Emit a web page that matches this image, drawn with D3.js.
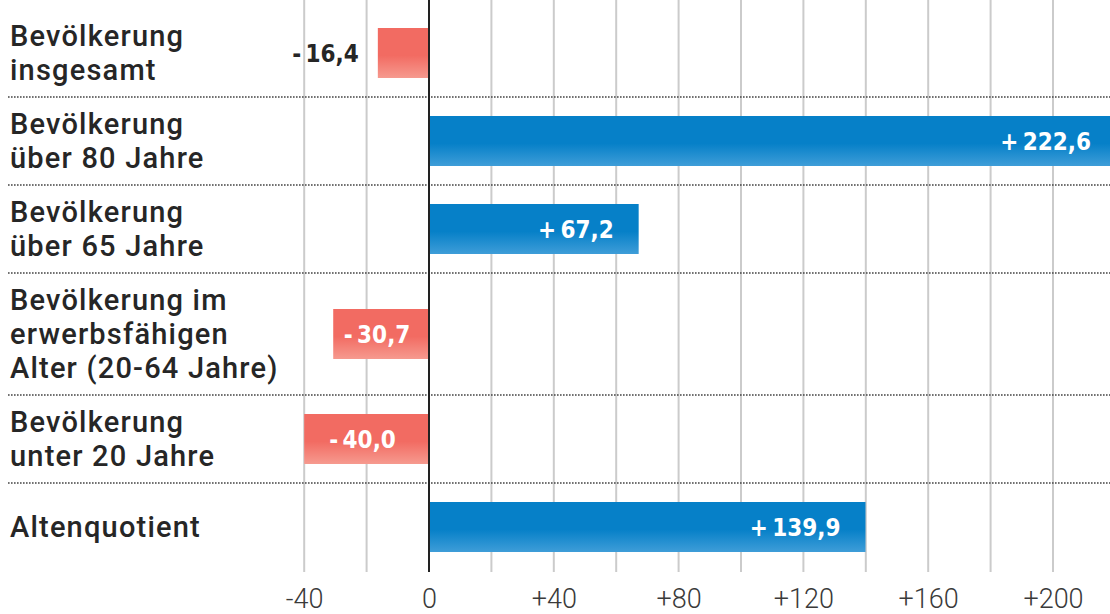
<!DOCTYPE html>
<html>
<head>
<meta charset="utf-8">
<script src="https://cdn.jsdelivr.net/npm/d3@7"></script>
<style>
  body { margin: 0; background: #fff; }
  svg { display: block; }
</style>
</head>
<body>
<div id="chart"></div>
<script>
// data
const categories = [
    "Bevölkerung\ninsgesamt",
    "Bevölkerung\nüber 80 Jahre",
    "Bevölkerung\nüber 65 Jahre",
    "Bevölkerung im\nerwerbsfähigen\nAlter (20-64 Jahre)",
    "Bevölkerung\nunter 20 Jahre",
    "Altenquotient"
];
const values = [-16.4, 222.6, 67.2, -30.7, -40.0, 139.9];
const tickValues = [-40, 0, 40, 80, 120, 160, 200];
const gridValues = [-40, -20, 0, 20, 40, 60, 80, 100, 120, 140, 160, 180, 200, 220];

let width = 1110,
    height = 614,
    lineHeight = 34,
    rowPad = 20,
    topY = 9,
    plotBottom = 572,
    barHeight = 50;

let svg = d3.select("#chart")
    .append("svg")
    .attr("width", width)
    .attr("height", height);

let defs = svg.append("defs");
function grad(id, c1, c2) {
    let g = defs.append("linearGradient").attr("id", id)
        .attr("x1", 0).attr("y1", 0).attr("x2", 0).attr("y2", 1);
    g.append("stop").attr("offset", "0%").attr("stop-color", c1);
    g.append("stop").attr("offset", "55%").attr("stop-color", c1);
    g.append("stop").attr("offset", "100%").attr("stop-color", c2);
}
grad("gBlue", "#0680c8", "#3e9dd8");
grad("gRed", "#f26b62", "#f69a8f");

let x = d3.scaleLinear()
    .domain([0, 200])
    .range([429, 1053]);

// rows have different heights depending on the number of text lines
let rows = categories.map(function (c, i) {
    let lines = c.split("\n");
    return {label: c, lines: lines, value: values[i], h: Math.max(2, lines.length) * lineHeight + rowPad};
});
let ends = d3.cumsum(rows, d => d.h);
rows.forEach(function (r, i) {
    r.y0 = topY + ends[i] - r.h;
    r.y1 = topY + ends[i];
    r.cy = (r.y0 + r.y1) / 2;
});
let yCenter = d3.scaleOrdinal()
    .domain(categories)
    .range(rows.map(r => r.cy));

// vertical grid
svg.append("g")
    .selectAll("line")
    .data(gridValues.filter(v => v !== 0))
    .enter()
    .append("line")
    .attr("x1", d => x(d)).attr("x2", d => x(d))
    .attr("y1", 0).attr("y2", plotBottom)
    .attr("stroke", "#cbcbcb")
    .attr("stroke-width", 2);

// dotted row separators
svg.append("g")
    .selectAll("line")
    .data(rows.slice(0, -1))
    .enter()
    .append("line")
    .attr("x1", 8).attr("x2", width)
    .attr("y1", d => d.y1).attr("y2", d => d.y1)
    .attr("stroke", "#444")
    .attr("stroke-width", 1.4)
    .attr("stroke-dasharray", "1.6,1.4");

// bars
svg.append("g")
    .selectAll("rect")
    .data(rows)
    .enter()
    .append("rect")
    .attr("x", d => x(Math.min(0, d.value)))
    .attr("width", d => Math.abs(x(d.value) - x(0)))
    .attr("y", d => yCenter(d.label) - barHeight / 2)
    .attr("height", barHeight)
    .attr("fill", d => d.value < 0 ? "url(#gRed)" : "url(#gBlue)");

// zero line
svg.append("line")
    .attr("x1", x(0)).attr("x2", x(0))
    .attr("y1", 0).attr("y2", plotBottom)
    .attr("stroke", "#222")
    .attr("stroke-width", 2);

// category labels
let labelG = svg.append("g")
    .attr("font-family", "Roboto, 'DejaVu Sans', sans-serif")
    .attr("font-weight", 500)
    .attr("font-size", 29)
    .attr("fill", "#262626");
labelG.selectAll("text")
    .data(rows)
    .enter()
    .append("text")
    .attr("x", 10)
    .attr("y", function (d) {
        // center the block (cap top to last baseline) on the bar
        let blockH = (d.lines.length - 1) * lineHeight + 20;
        return yCenter(d.label) - blockH / 2 + 20;
    })
    .attr("letter-spacing", 1.2)
    .each(function (d) {
        let t = d3.select(this);
        d.lines.forEach(function (l, i) {
            t.append("tspan").attr("x", 10).attr("dy", i === 0 ? 0 : lineHeight).text(l);
        });
    });

// value labels
let de = d3.formatLocale({decimal: ",", thousands: ".", grouping: [3], currency: ["", " €"]});
let fmt = de.format("+.1f");
function valueText(v) {
    let s = fmt(v).replace("−", "-");
    return s[0] + "\u2009" + s.slice(1);
}

svg.append("g")
    .attr("font-family", "'DejaVu Sans Condensed', 'DejaVu Sans', sans-serif")
    .attr("font-stretch", "condensed")
    .attr("font-weight", "bold")
    .attr("font-size", 24)
    .selectAll("text")
    .data(rows)
    .enter()
    .append("text")
    .attr("y", d => yCenter(d.label) + 9)
    .text(d => valueText(d.value))
    .each(function (d) {
        let t = d3.select(this);
        let w = this.getComputedTextLength();
        let barW = Math.abs(x(d.value) - x(0));
        if (d.value >= 0) {
            t.attr("text-anchor", "end")
                .attr("x", Math.min(x(d.value), width + 6) - 25)
                .attr("fill", "#fff");
        } else if (barW > w + 12) {
            t.attr("text-anchor", "middle")
                .attr("x", (x(d.value) + x(0)) / 2 - 4)
                .attr("fill", "#fff");
        } else {
            t.attr("text-anchor", "end")
                .attr("x", x(d.value) - 19)
                .attr("fill", "#262626");
        }
    });

// bottom tick labels
let axis = svg.append("g")
    .attr("transform", "translate(0," + plotBottom + ")")
    .call(d3.axisBottom(x)
        .tickValues(tickValues)
        .tickSize(0)
        .tickPadding(0)
        .tickFormat(d => d > 0 ? "+" + d : String(d)));
axis.select(".domain").remove();
axis.selectAll("text")
    .attr("dy", 0)
    .attr("y", 36)
    .attr("font-family", "Roboto, sans-serif")
    .attr("font-weight", 300)
    .attr("font-size", 27)
    .attr("fill", "#3a3a3a");
</script>
</body>
</html>
